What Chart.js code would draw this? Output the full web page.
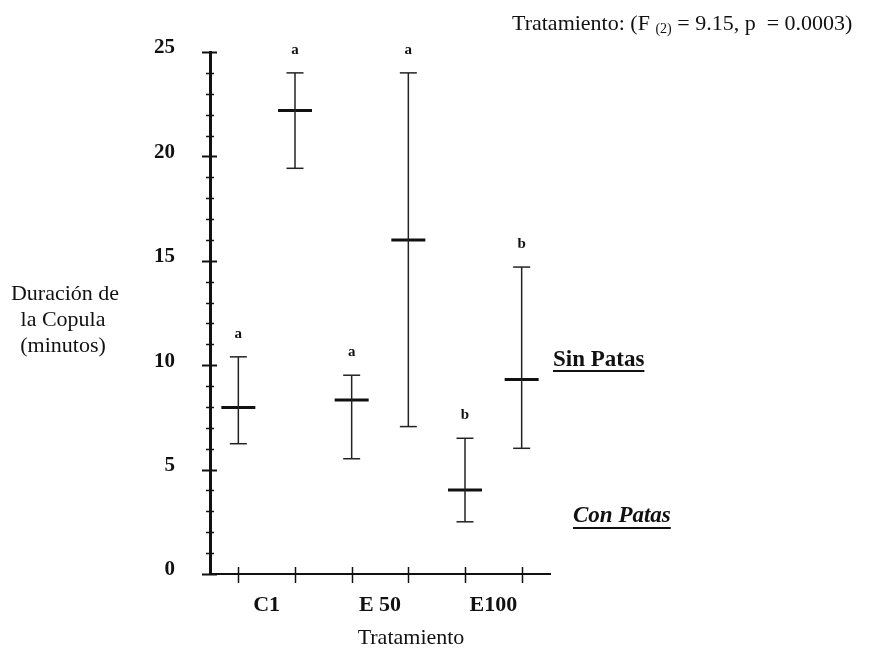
<!DOCTYPE html>
<html>
<head>
<meta charset="utf-8">
<script src="https://cdn.jsdelivr.net/npm/chart.js@4.4.0/dist/chart.umd.min.js"></script>
<style>
  html, body { margin: 0; padding: 0; background: #fff; }
  #wrap { width: 876px; height: 649px; }
</style>
</head>
<body>
<div id="wrap"><canvas id="chart" width="876" height="649"></canvas></div>
<script>
// Datos
const treatments = ['C1', 'E 50', 'E100'];
const treatmentPositions = [1.5, 3.5, 5.5];
// posiciones de cada barra: con patas / sin patas alternados
const positions = [1, 2, 3, 4, 5, 6];
const means = [7.98, 22.2, 8.33, 16.0, 4.02, 9.32];
const upper = [10.4, 24.0, 9.52, 24.0, 6.5, 14.7];
const lower = [6.24, 19.43, 5.52, 7.06, 2.5, 6.02];
const letters = ['a', 'a', 'a', 'a', 'b', 'b'];
const yTickLabels = [0, 5, 10, 15, 20, 25];

const SERIF = '"Liberation Serif", "Times New Roman", serif';

// Barras de error: una serie por barra
const datasets = [];
positions.forEach((p, i) => {
    datasets.push({
        data: [{ x: p, y: lower[i] }, { x: p, y: upper[i] }],
        showLine: true,
        borderColor: '#222',
        borderWidth: 1.5,
        pointStyle: 'line',
        pointRadius: 8.5,
        pointBorderWidth: 1.5,
        pointBorderColor: '#222'
    });
});
// Medias
datasets.push({
    data: positions.map((p, i) => ({ x: p, y: means[i] })),
    showLine: false,
    pointStyle: 'line',
    pointRadius: 17,
    pointBorderWidth: 3,
    pointBorderColor: '#111'
});

// Marcas de ejes, letras y textos
const extrasPlugin = {
    id: 'extras',
    afterDraw(chart) {
        const ctx = chart.ctx;
        const xs = chart.scales.x;
        const ys = chart.scales.y;
        ctx.save();
        ctx.strokeStyle = '#111';

        // marcas eje Y
        ys.ticks.forEach(t => {
            const py = Math.round(ys.getPixelForValue(t.value)) + 0.5;
            const major = yTickLabels.includes(t.value);
            ctx.lineWidth = major ? 2 : 1.5;
            ctx.beginPath();
            ctx.moveTo(xs.left - (major ? 8 : 4), py);
            ctx.lineTo(xs.left + (major ? 7 : 4), py);
            ctx.stroke();
        });

        // marcas eje X
        ctx.lineWidth = 1.5;
        xs.ticks.forEach(t => {
            if (!Number.isInteger(t.value)) return;
            const px = Math.round(xs.getPixelForValue(t.value)) + 0.5;
            ctx.beginPath();
            ctx.moveTo(px, ys.bottom - 7);
            ctx.lineTo(px, ys.bottom + 9);
            ctx.stroke();
        });

        ctx.fillStyle = '#111';

        // letras de significancia
        ctx.font = 'bold 15px ' + SERIF;
        ctx.textAlign = 'center';
        ctx.textBaseline = 'alphabetic';
        positions.forEach((p, i) => {
            ctx.fillText(letters[i], xs.getPixelForValue(p), ys.getPixelForValue(upper[i]) - 19);
        });

        // titulo eje Y
        ctx.font = '22px ' + SERIF;
        ctx.fillText('Duración de', 65, 300);
        ctx.fillText('la Copula', 63, 326);
        ctx.fillText('(minutos)', 63, 352);

        // titulo eje X
        ctx.fillText('Tratamiento', 411, 644);

        // anotación superior
        ctx.textAlign = 'left';
        let tx = 512;
        const part1 = 'Tratamiento: (F ';
        ctx.fillText(part1, tx, 30);
        tx += ctx.measureText(part1).width;
        ctx.font = '14px ' + SERIF;
        ctx.fillText('(2)', tx, 33);
        tx += ctx.measureText('(2)').width;
        ctx.font = '22px ' + SERIF;
        ctx.fillText(' = 9.15, p  = 0.0003)', tx, 30);

        // leyendas
        function underlined(text, font, x, y, uy) {
            ctx.font = font;
            ctx.fillText(text, x, y);
            const w = ctx.measureText(text).width;
            ctx.lineWidth = 2;
            ctx.beginPath();
            ctx.moveTo(x, uy);
            ctx.lineTo(x + w, uy);
            ctx.stroke();
        }
        underlined('Sin Patas', 'bold 23px ' + SERIF, 553, 366, 371);
        underlined('Con Patas', 'italic bold 23px ' + SERIF, 573, 522, 528);

        ctx.restore();
    }
};

const ctx = document.getElementById('chart').getContext('2d');
const chart = new Chart(ctx, {
    type: 'scatter',
    data: { datasets: datasets },
    options: {
        responsive: false,
        animation: false,
        events: [],
        layout: {
            padding: { top: 52, right: 326, bottom: 0, left: 0 }
        },
        plugins: {
            legend: { display: false },
            tooltip: { enabled: false }
        },
        scales: {
            x: {
                type: 'linear',
                min: 0.5,
                max: 6.5,
                afterFit: function (scale) { scale.height = 75; },
                grid: { display: false, drawTicks: false },
                border: { display: true, color: '#111', width: 2 },
                ticks: {
                    stepSize: 0.5,
                    autoSkip: false,
                    maxRotation: 0,
                    padding: 18,
                    color: '#111',
                    font: { family: SERIF, size: 22, weight: 'bold' },
                    callback: function (value) {
                        const k = treatmentPositions.indexOf(value);
                        return k >= 0 ? treatments[k] : '';
                    }
                }
            },
            y: {
                min: 0,
                max: 25,
                afterFit: function (scale) { scale.width = 210; },
                grid: { display: false, drawTicks: false },
                border: { display: true, color: '#111', width: 3 },
                ticks: {
                    stepSize: 1,
                    autoSkip: false,
                    padding: 35,
                    labelOffset: -4,
                    color: '#111',
                    font: { family: SERIF, size: 21, weight: 'bold' },
                    callback: function (value) {
                        return yTickLabels.includes(value) ? value : '';
                    }
                }
            }
        }
    },
    plugins: [extrasPlugin]
});
</script>
</body>
</html>
